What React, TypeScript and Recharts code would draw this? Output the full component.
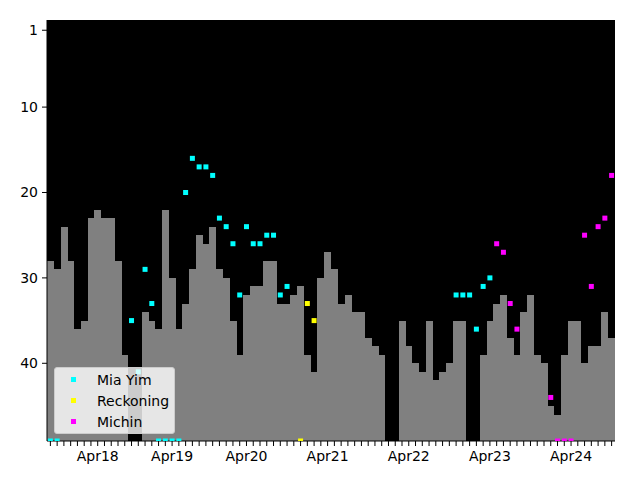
import { ComposedChart, Bar, Scatter, XAxis, YAxis, CartesianGrid, Legend } from 'recharts'

// monthly position of the team (gray bars), null = no entry that month
const monthRanks = [
  28, 29, 24, 28, 36, 35, 23, 22, 23, 23,
  28, 39, null, null, 34, 35, 36, 22, 30, 36,
  33, 29, 25, 26, 24, 29, 30, 35, 39, 32,
  31, 31, 28, 28, 33, 33, 32, 31, 39, 41,
  30, 27, 29, 33, 32, 34, 34, 37, 38, 39,
  null, null, 35, 38, 40, 41, 35, 42, 41, 40,
  35, 35, null, null, 39, 35, 33, 32, 37, 39,
  34, 32, 39, 40, 45, 46, 39, 35, 35, 40,
  38, 38, 34, 37,
]

// x tick labels and the month slot they sit on
const tickSlots = [7, 18, 29, 41, 53, 65, 77]
const tickLabels = ['Apr18', 'Apr19', 'Apr20', 'Apr21', 'Apr22', 'Apr23', 'Apr24']
const yTicks = [1, 10, 20, 30, 40]

const seriesNames = ['Mia Yim', 'Reckoning', 'Michin']

// singles positions, null = unranked (drawn on the bottom edge)
const miaYimMonths = [0, 1, 12, 13, 14, 15, 16, 17, 18, 19, 20, 21, 22, 23, 24, 25, 26, 27, 28, 29, 30, 31, 32, 33, 34, 35, 60, 61, 62, 63, 64, 65]
const miaYimRanks = [null, null, 35, 41, 29, 33, null, null, null, null, 20, 16, 17, 17, 18, 23, 24, 26, 32, 24, 26, 26, 25, 25, 32, 31, 32, 32, 32, 36, 31, 30]

const reckoningMonths = [37, 38, 39]
const reckoningRanks = [null, 33, 35]

const michinMonths = [66, 67, 68, 69, 74, 75, 76, 77, 79, 80, 81, 82, 83]
const michinRanks = [26, 27, 33, 36, 44, null, null, null, 25, 31, 24, 23, 18]

const Y_TOP = -0.2
const Y_BOTTOM = 49.1

const barData = monthRanks.map((rank, idx) => ({ idx, rank }))

const toPoints = (months: number[], ranks: (number | null)[]) =>
  months.map((x, i) => ({ x, y: ranks[i] == null ? Y_BOTTOM : ranks[i] }))

const square = (color: string) => (props: any) => (
  <rect x={props.cx - 2.5} y={props.cy - 2.5} width={5} height={5} fill={color} />
)

const renderLegend = ({ payload }: any) => {
  const items = (payload || [])
    .filter((p: any) => seriesNames.includes(p.value))
    .sort((a: any, b: any) => seriesNames.indexOf(a.value) - seriesNames.indexOf(b.value))
  return (
    <div
      style={{
        width: 121,
        height: 67,
        boxSizing: 'border-box',
        background: 'rgba(255,255,255,0.8)',
        border: '1px solid #cccccc',
        borderRadius: 3,
        padding: '1px 0 0 16px',
        fontFamily: 'DejaVu Sans',
        fontSize: 14,
        color: '#000',
      }}
    >
      {items.map((p: any) => (
        <div key={p.value} style={{ display: 'flex', alignItems: 'center', height: 21 }}>
          <span style={{ width: 5, height: 5, background: p.color, marginRight: 21 }} />
          <span>{p.value}</span>
        </div>
      ))}
    </div>
  )
}

export default function App() {
  const tickFormatter = (v: number) => {
    const k = tickSlots.indexOf(v)
    return k >= 0 ? tickLabels[k] : ''
  }

  return (
    <div style={{ position: 'absolute', left: 0, top: 0, fontFamily: 'DejaVu Sans' }}>
      <ComposedChart
        width={640}
        height={480}
        data={barData}
        margin={{ top: 20, right: 25, bottom: 0, left: 0 }}
        barCategoryGap={0}
        barGap={0}
      >
        <CartesianGrid horizontal={false} vertical={false} fill="#000000" />
        <XAxis
          dataKey="idx"
          type="category"
          interval={0}
          height={39}
          tickSize={5}
          tickMargin={5}
          stroke="#000"
          tick={{ fill: '#000', fontSize: 14 }}
          tickFormatter={tickFormatter}
        />
        <XAxis xAxisId="pos" type="number" dataKey="x" domain={[-0.5, 83.5]} allowDataOverflow hide />
        <YAxis
          reversed
          type="number"
          domain={[Y_TOP, Y_BOTTOM]}
          allowDataOverflow
          ticks={yTicks}
          width={47}
          tickSize={5}
          tickMargin={4}
          stroke="#000"
          tick={{ fill: '#000', fontSize: 14 }}
        />
        <Bar
          dataKey={(d: any) => (d.rank == null ? null : [Y_BOTTOM, d.rank])}
          fill="#808080"
          shapeRendering="crispEdges"
          legendType="none"
          isAnimationActive={false}
        />
        <Scatter name="Mia Yim" xAxisId="pos" data={toPoints(miaYimMonths, miaYimRanks)} dataKey="y" fill="#00ffff" shape={square('#00ffff')} isAnimationActive={false} />
        <Scatter name="Reckoning" xAxisId="pos" data={toPoints(reckoningMonths, reckoningRanks)} dataKey="y" fill="#ffff00" shape={square('#ffff00')} isAnimationActive={false} />
        <Scatter name="Michin" xAxisId="pos" data={toPoints(michinMonths, michinRanks)} dataKey="y" fill="#ff00ff" shape={square('#ff00ff')} isAnimationActive={false} />
        <Legend
          layout="vertical"
          align="center"
          verticalAlign="middle"
          content={renderLegend}
          wrapperStyle={{ left: 54, top: 367, width: 121, height: 67 }}
        />
      </ComposedChart>
    </div>
  )
}
